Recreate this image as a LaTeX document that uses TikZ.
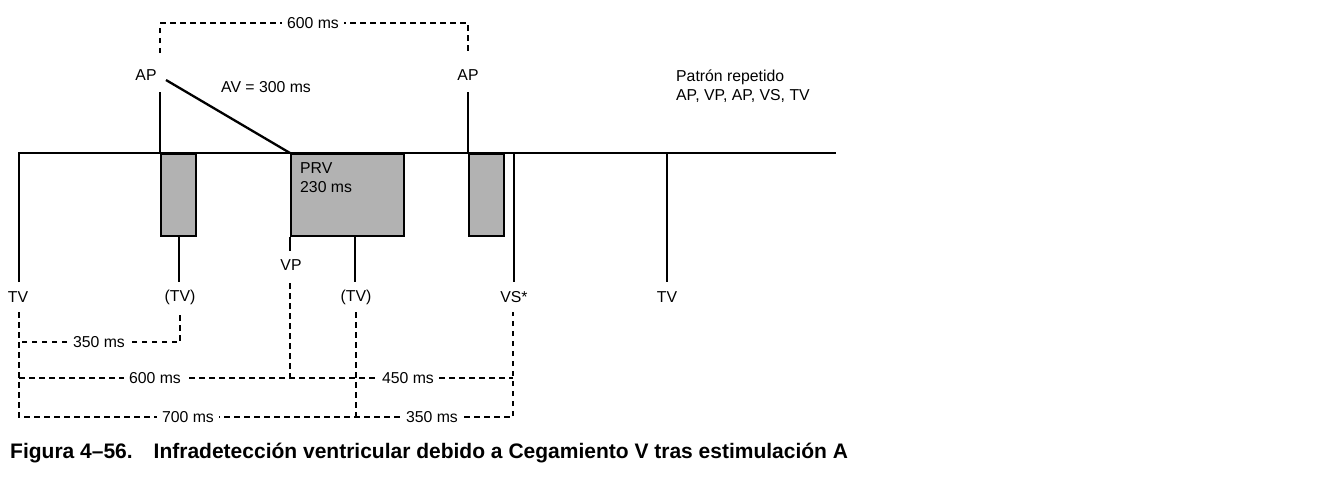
\documentclass[tikz,border=0pt]{standalone}
\usepackage{fontspec}
\setmainfont{Liberation Sans}
\newcommand{\lblfont}{\fontsize{15.8}{19}\selectfont}
\newcommand{\capfont}{\fontsize{21}{25}\selectfont\bfseries}
\begin{document}
\begin{tikzpicture}[x=1pt,y=-1pt,
  sig/.style={line width=2.3pt},
  ivl/.style={line width=1.1pt, dash pattern=on 5.5pt off 4.5pt},
  lbl/.style={inner sep=0pt, font=\lblfont},
  msl/.style={fill=white, inner xsep=5pt, inner ysep=1pt, font=\lblfont},
  blank/.style={fill=gray!60, draw=black, line width=2.3pt, inner sep=0pt, anchor=north west},
]
\useasboundingbox (0,0) rectangle (1333,488);

% blanking boxes
\node[blank, minimum width=35pt, minimum height=82pt] (bx1) at (160,153) {};
\node[blank, minimum width=113pt, minimum height=82pt] (prv) at (290,153) {};
\node[blank, minimum width=35pt, minimum height=82pt] (bx2) at (468,153) {};

% coordinates
\coordinate (b0) at (19,153);
\coordinate (b1) at (836,153);
\coordinate (tv1) at (19,282);
\coordinate (ap1top) at (160,92);
\coordinate (ap1) at (160,153);
\coordinate (diag0) at (166,80);
\coordinate (tv2top) at (179,235);
\coordinate (tv2) at (179,282);
\coordinate (vp) at (290,251);
\coordinate (tv3top) at (355,235);
\coordinate (tv3) at (355,282);
\coordinate (ap2top) at (468,92);
\coordinate (ap2) at (468,153);
\coordinate (vs0) at (514,153);
\coordinate (vs) at (514,282);
\coordinate (tv40) at (667,153);
\coordinate (tv4) at (667,282);

% signal lines
\draw[sig] (tv1) -- (b0) -- (b1);
\draw[sig] (ap1top) -- (ap1);
\draw[sig] (diag0) -- (prv.north west);
\draw[sig] (tv2top) -- (tv2);
\draw[sig] (prv.south west) -- (vp);
\draw[sig] (tv3top) -- (tv3);
\draw[sig] (ap2top) -- (ap2);
\draw[sig] (vs0) -- (vs);
\draw[sig] (tv40) -- (tv4);

% labels
\node[lbl] (lap1) at (146,75) {AP};
\node[lbl] (lap2) at (468,75) {AP};
\node[lbl] (lav) at (266,87) {AV = 300 ms};
\node[lbl, anchor=west] (lprv) at (300,168) {PRV};
\node[lbl, anchor=west] (lprvms) at (300,187) {230 ms};
\node[lbl] (ltv1) at (18,297) {TV};
\node[lbl] (ltv2) at (180,297) {(TV)};
\node[lbl] (lvp) at (291,265) {VP};
\node[lbl] (ltv3) at (356,297) {(TV)};
\node[lbl] (lvs) at (514,297) {VS*};
\node[lbl] (ltv4) at (667,297) {TV};
\node[lbl, anchor=base west] (lpat1) at (676,81) {Patrón repetido};
\node[lbl, anchor=base west] (lpat2) at (676,100) {AP, VP, AP, VS, TV};

% top interval
\coordinate (t0) at (160,53);
\coordinate (t1) at (160,23);
\coordinate (t2) at (468,23);
\coordinate (t3) at (468,53);
\draw[ivl] (t0) -- (t1) -- (t2) -- (t3);
\node[msl] (m600t) at (313,23) {600 ms};

% bottom intervals
\coordinate (d1a) at (19,312);
\coordinate (d1b) at (19,417);
\coordinate (d2a) at (180,315);
\coordinate (d2b) at (180,342);
\coordinate (d1m) at (19,342);
\coordinate (d3a) at (290,283);
\coordinate (d3b) at (290,378);
\coordinate (d1n) at (19,378);
\coordinate (d5m) at (513,378);
\coordinate (d4a) at (356,312);
\coordinate (d4b) at (356,417);
\coordinate (d5a) at (513,312);
\coordinate (d5b) at (513,417);

\draw[ivl] (d1a) -- (d1b) -- (d5b) -- (d5a);
\draw[ivl] (d2a) -- (d2b) -- (d1m);
\draw[ivl] (d3a) -- (d3b);
\draw[ivl] (d1n) -- (d5m);
\draw[ivl] (d4a) -- (d4b);

\node[msl] (m350a) at (99,342) {350 ms};
\node[msl] (m600) at (155,378) {600 ms};
\node[msl] (m450) at (408,378) {450 ms};
\node[msl] (m700) at (188,417) {700 ms};
\node[msl] (m350b) at (432,417) {350 ms};

% caption
\node[anchor=base west, inner sep=0pt, font=\capfont] (cap) at (10,458)
  {Figura 4–56.\hspace{21pt}Infradetección ventricular debido a Cegamiento V tras estimulación A};
\end{tikzpicture}
\end{document}
